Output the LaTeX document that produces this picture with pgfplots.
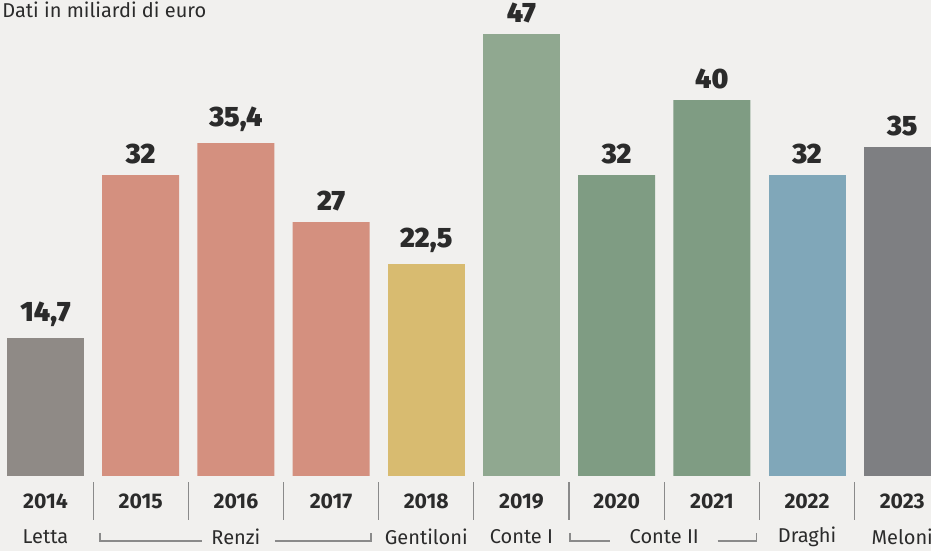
\documentclass[border=0pt]{standalone}
\usepackage{fontspec}
\setmainfont{Fira Sans}
\newfontfamily\blackfont{Fira Sans Black}
\usepackage{pgfplots}
\pgfplotsset{compat=1.18}
\definecolor{paper}{HTML}{F1F0EE}
\definecolor{ink}{HTML}{2B2B2B}
\definecolor{cLetta}{HTML}{8F8A86}
\definecolor{cRenzi}{HTML}{D4907F}
\definecolor{cGent}{HTML}{D8BB70}
\definecolor{cConteI}{HTML}{90A890}
\definecolor{cConteII}{HTML}{7F9C83}
\definecolor{cDraghi}{HTML}{80A7B9}
\definecolor{cMeloni}{HTML}{7E7F82}
\definecolor{sep}{HTML}{8A8A8A}
\begin{document}
\begin{tikzpicture}
\fill[paper] (0,0) rectangle (465.5pt,275.5pt);
\clip (0,0) rectangle (465.5pt,275.5pt);
\begin{axis}[
  scale only axis, width=465.5pt, height=275.5pt,
  xmin=-0.478, xmax=9.302, ymin=-7.98, ymax=50.64,
  axis lines=none, clip=false,
  ybar, bar width=0.809, bar shift=0pt,
  point meta=explicit symbolic,
  nodes near coords,
  every node near coord/.append style={font=\blackfont\fontsize{14}{14}\selectfont, text=ink, anchor=south, inner sep=0pt, yshift=5.5pt},
]
\addplot[fill=cLetta, draw=none] coordinates {(0,14.7)[14,7]};
\addplot[fill=cRenzi, draw=none] coordinates {(1,32)[32] (2,35.4)[35,4] (3,27)[27]};
\addplot[fill=cGent, draw=none] coordinates {(4,22.5)[22,5]};
\addplot[fill=cConteI, draw=none] coordinates {(5,47)[47]};
\addplot[fill=cConteII, draw=none] coordinates {(6,32)[32] (7,40)[40]};
\addplot[fill=cDraghi, draw=none] coordinates {(8,32)[32]};
\addplot[fill=cMeloni, draw=none] coordinates {(9,35)[35]};
% separators
\foreach \k in {0.5,1.5,...,8.5} {
  \edef\tmp{\noexpand\draw[sep, line width=0.6pt] (axis cs:\k,-0.64) -- (axis cs:\k,-4.68);}\tmp
}
% year labels
\foreach \yr [count=\i from 0] in {2014,2015,2016,2017,2018,2019,2020,2021,2022,2023} {
  \edef\tmp{\noexpand\node[font=\noexpand\bfseries\noexpand\fontsize{10.6}{12}\noexpand\selectfont, text=ink] at (axis cs:\i,-2.68) {\yr};}\tmp
}
% government labels
\begin{scope}[every node/.style={font=\fontsize{10}{12}\selectfont, text=ink}]
\node at (axis cs:0,-6.45) {Letta};
\node at (axis cs:2,-6.45) {Renzi};
\node at (axis cs:4,-6.45) {Gentiloni};
\node at (axis cs:5,-6.45) {Conte I};
\node at (axis cs:6.5,-6.45) {Conte II};
\node at (axis cs:8,-6.45) {Draghi};
\node at (axis cs:9,-6.45) {Meloni};
\end{scope}
\draw[sep, line width=0.6pt] (axis cs:0.572,-6.06) -- (axis cs:0.572,-6.91) -- (axis cs:1.644,-6.91);
\draw[sep, line width=0.6pt] (axis cs:2.41,-6.91) -- (axis cs:3.42,-6.91) -- (axis cs:3.42,-6.06);
\draw[sep, line width=0.6pt] (axis cs:5.51,-6.06) -- (axis cs:5.51,-6.91) -- (axis cs:5.93,-6.91);
\draw[sep, line width=0.6pt] (axis cs:7.06,-6.91) -- (axis cs:7.47,-6.91) -- (axis cs:7.47,-6.06);
\end{axis}
\node[anchor=north west, inner sep=0pt, text=ink, font=\fontsize{10}{11}\selectfont] at (1pt,274.5pt) {Dati in miliardi di euro};
\end{tikzpicture}
\end{document}
